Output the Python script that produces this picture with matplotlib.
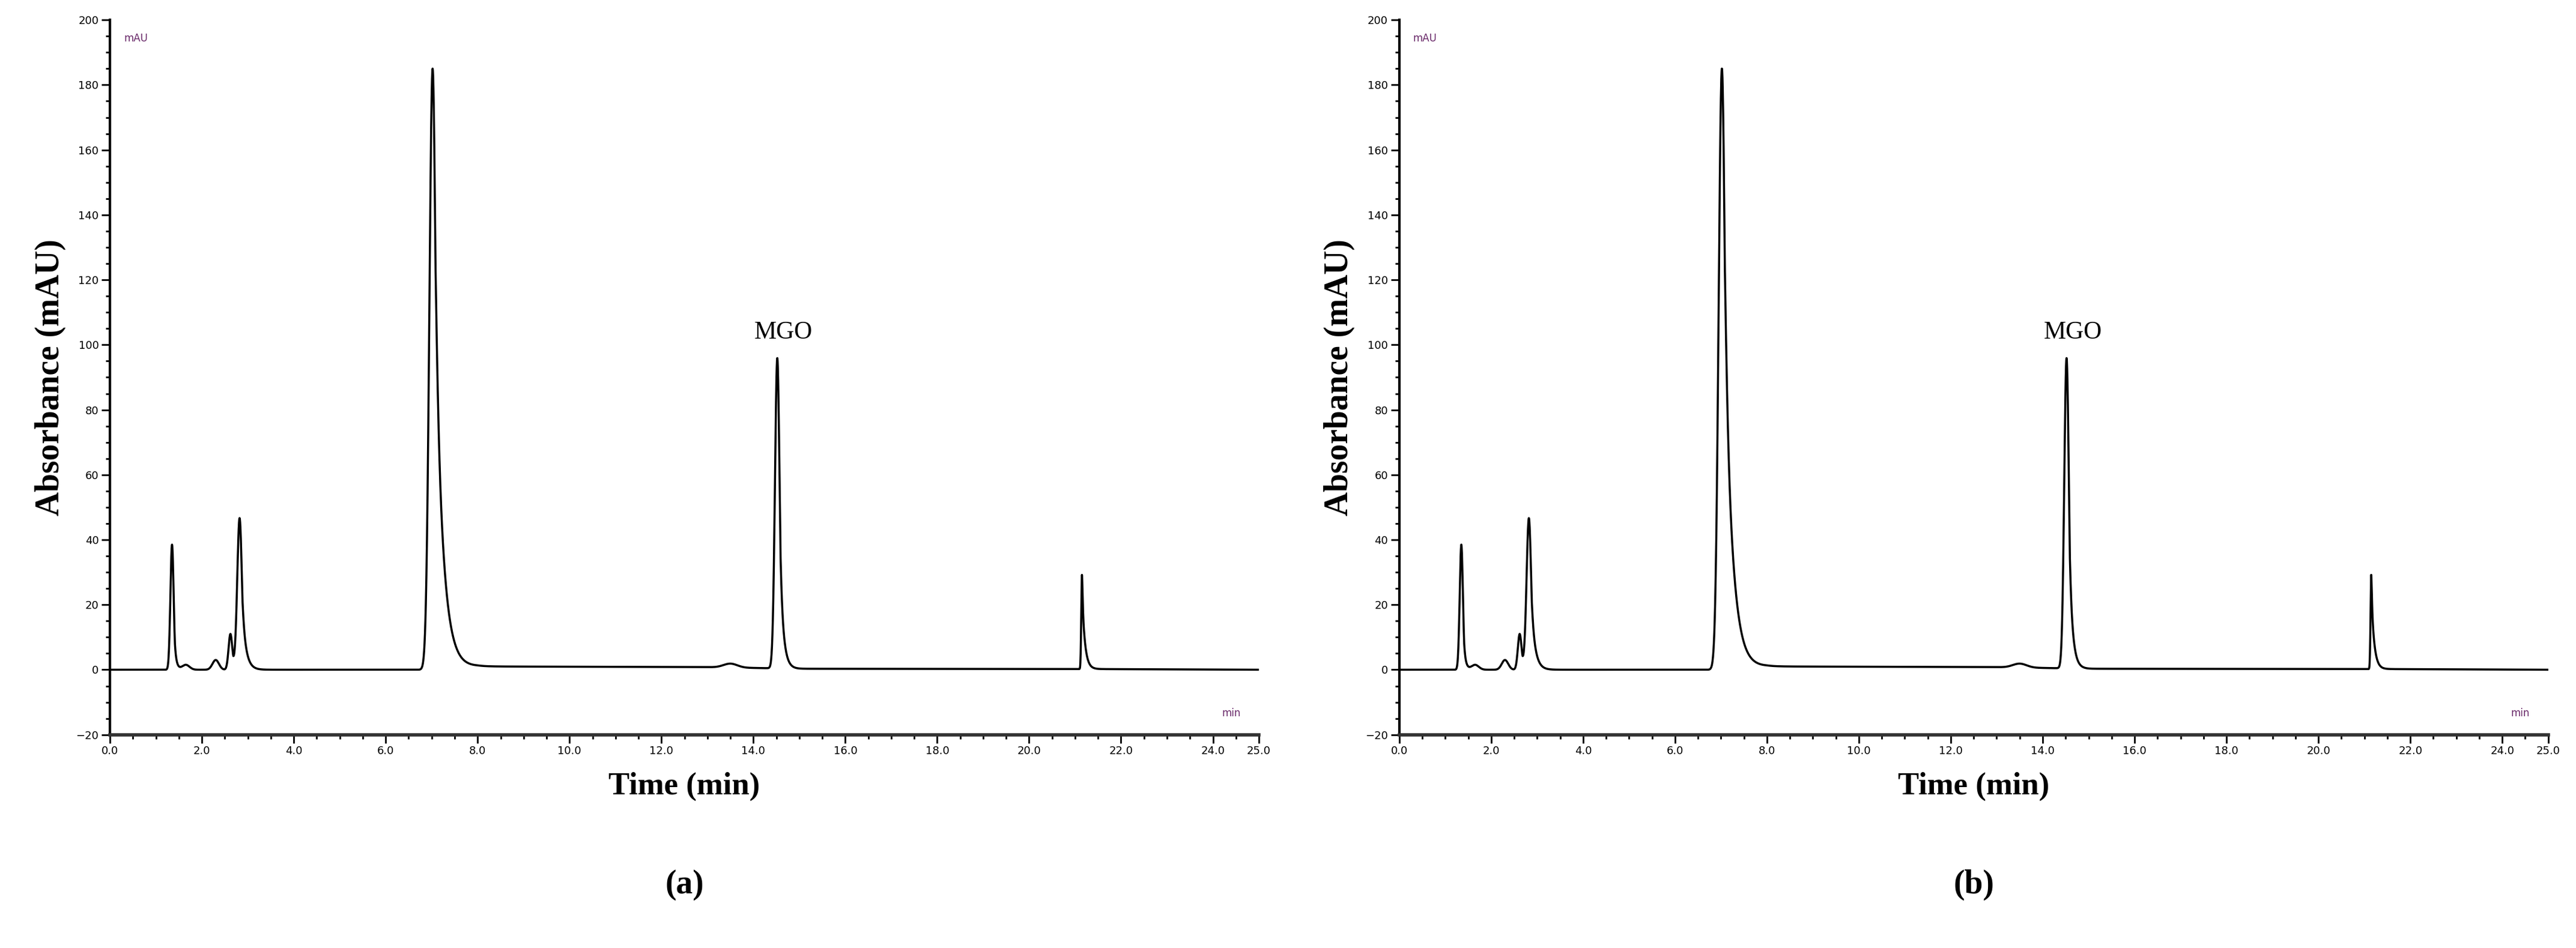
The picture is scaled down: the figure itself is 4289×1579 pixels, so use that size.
import numpy as np
import matplotlib
matplotlib.use('Agg')
import matplotlib.pyplot as plt
from matplotlib.ticker import MultipleLocator, FormatStrFormatter

# Peak table (retention time, height, width, tail)
peak_times = [1.35, 1.65, 2.30, 2.62, 2.82, 7.02, 13.50, 14.52, 21.15]
peak_heights = [38.5, 1.5, 3.0, 11.0, 46.5, 185.0, 1.2, 95.5, 29.0]
peak_widths = [0.035, 0.08, 0.07, 0.04, 0.05, 0.07, 0.15, 0.05, 0.015]
peak_tails = [0.04, 0.05, 0.05, 0.05, 0.08, 0.16, 0.05, 0.07, 0.06]
# gentle baseline drift (time, mAU)
drift_times = [0.0, 7.0, 8.0, 13.0, 15.0, 21.5, 25.0]
drift_values = [0.0, 0.0, 1.0, 0.8, 0.3, 0.2, 0.0]

panel_labels = ['(a)', '(b)']
peak_name = 'MGO'
peak_name_time = 14.52


def trace(t):
    y = np.interp(t, drift_times, drift_values)
    for t0, h, w, tau in zip(peak_times, peak_heights, peak_widths, peak_tails):
        rise = np.exp(-0.5 * ((t - t0) / w) ** 2)
        fall = np.exp(-np.clip(t - t0, 0, None) / tau) * 0.85 + 0.15 * np.exp(-0.5 * ((t - t0) / w) ** 2)
        y += h * np.where(t < t0, rise, np.maximum(fall, rise))
    return y


t = np.linspace(0, 25, 8000)
signal = trace(t)

fig = plt.figure(figsize=(42.89, 15.79), dpi=100)
positions = [[0.0427, 0.225, 0.446, 0.754], [0.5432, 0.225, 0.446, 0.754]]
serif = 'Liberation Serif'

for pos, lab in zip(positions, panel_labels):
    ax = fig.add_axes(pos)
    ax.plot(t, signal, color='black', lw=2.5)
    ax.set_xlim(0, 25)
    ax.set_ylim(-20, 200)
    ax.spines['top'].set_visible(False)
    ax.spines['right'].set_visible(False)
    ax.spines['left'].set_linewidth(3)
    ax.spines['bottom'].set_linewidth(4)
    ax.spines['bottom'].set_color('#333333')
    ax.xaxis.set_major_locator(MultipleLocator(2))
    ax.xaxis.set_minor_locator(MultipleLocator(0.5))
    ax.xaxis.set_major_formatter(FormatStrFormatter('%.1f'))
    ax.yaxis.set_major_locator(MultipleLocator(20))
    ax.yaxis.set_minor_locator(MultipleLocator(5))
    ax.set_xticks(list(ax.get_xticks()) + [25])
    ax.set_xlim(0, 25)
    ax.tick_params(which='both', direction='out', labelsize=13, width=2)
    ax.tick_params(which='major', length=10)
    ax.tick_params(which='minor', length=5)
    ax.text(0.3, 196, 'mAU', color='#6a2a6a', fontsize=12, va='top')
    ax.text(24.6, -15, 'min', color='#6a2a6a', fontsize=12, va='bottom', ha='right')
    ax.text(peak_name_time - 0.5, 102, peak_name, family=serif, fontsize=30, ha='left')
    ax.set_ylabel('Absorbance (mAU)', family=serif, fontsize=40, fontweight='bold', labelpad=12)
    ax.set_xlabel('Time (min)', family=serif, fontsize=38, fontweight='bold', labelpad=18)
    ax.text(0.5, -0.21, lab, transform=ax.transAxes, family=serif, fontsize=40,
            fontweight='bold', ha='center', va='center')

plt.savefig('out.png', dpi=100)
